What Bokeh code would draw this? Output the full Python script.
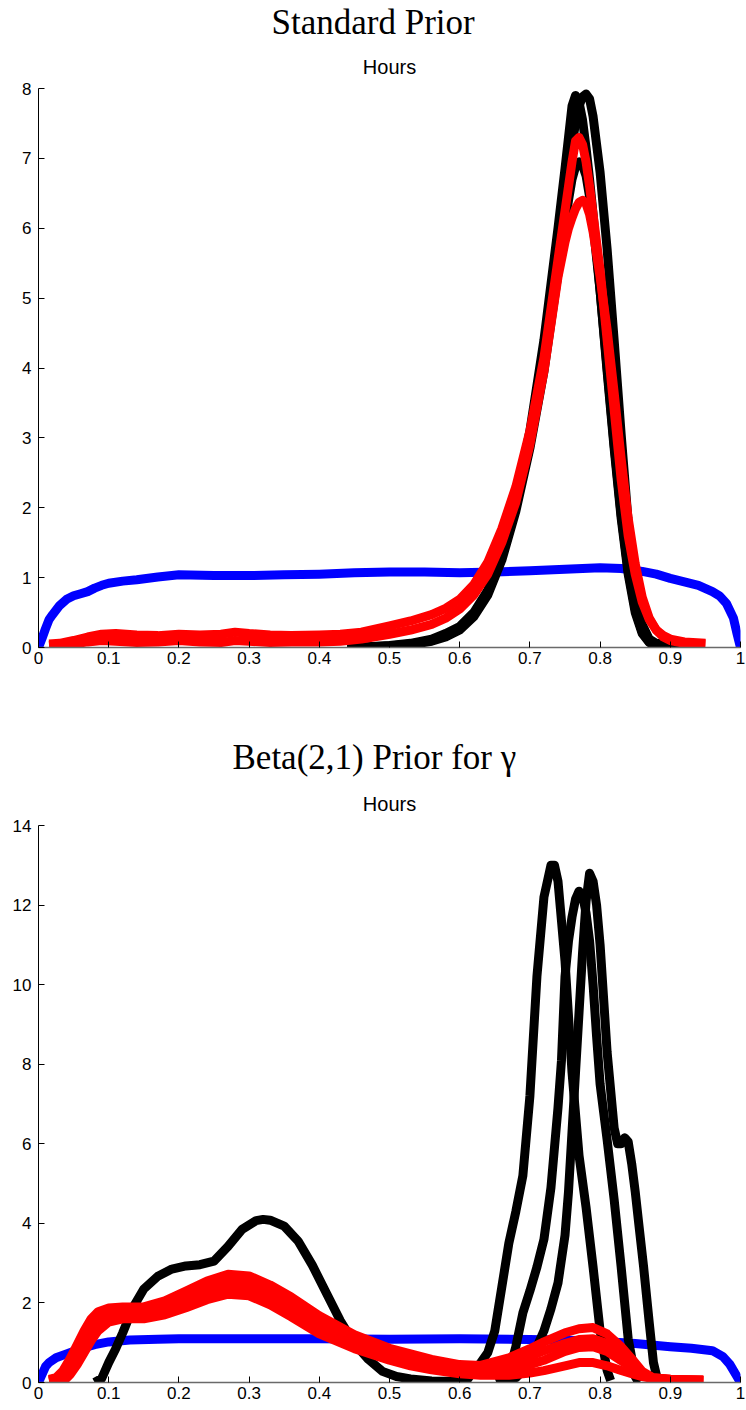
from bokeh.plotting import figure
from bokeh.models import Range1d, FixedTicker, Title
from bokeh.layouts import column
from bokeh.embed import file_html
from bokeh.resources import INLINE

# ---------------- ticks / labels ----------------
x_ticks = [0, 0.1, 0.2, 0.3, 0.4, 0.5, 0.6, 0.7, 0.8, 0.9, 1]
x_tick_labels = ["0", "0.1", "0.2", "0.3", "0.4", "0.5", "0.6", "0.7", "0.8", "0.9", "1"]
top_y_ticks = [0, 1, 2, 3, 4, 5, 6, 7, 8]
bot_y_ticks = [0, 2, 4, 6, 8, 10, 12, 14]

top_title = "Standard Prior"
bot_title = "Beta(2,1) Prior for γ"
sub_title = "Hours"

# ---------------- top panel data ----------------
top_blue_x = [0.0, 0.005, 0.01, 0.015, 0.02, 0.03, 0.04, 0.05, 0.06, 0.07, 0.08, 0.09, 0.1, 0.12, 0.14,
              0.17, 0.2, 0.25, 0.3, 0.35, 0.4, 0.45, 0.5, 0.55, 0.6, 0.65, 0.7, 0.75, 0.8, 0.83, 0.86,
              0.88, 0.9, 0.92, 0.94, 0.96, 0.97, 0.98, 0.99, 0.995, 1.0]
top_blue_y = [0.0, 0.13, 0.27, 0.4, 0.47, 0.6, 0.69, 0.74, 0.77, 0.8, 0.85, 0.89, 0.92, 0.95, 0.97,
              1.01, 1.04, 1.03, 1.03, 1.04, 1.05, 1.07, 1.08, 1.08, 1.07, 1.08, 1.1, 1.12, 1.14, 1.13, 1.09,
              1.05, 0.99, 0.94, 0.89, 0.8, 0.74, 0.63, 0.42, 0.2, 0.0]

top_black_x = [0.44, 0.47, 0.5, 0.53, 0.56, 0.58, 0.6, 0.62, 0.64, 0.66, 0.68, 0.7, 0.72, 0.74, 0.75,
               0.755, 0.76, 0.765, 0.77, 0.775, 0.78, 0.785, 0.79, 0.8, 0.81, 0.82, 0.83, 0.84, 0.85,
               0.86, 0.87, 0.88, 0.89, 0.9, 0.92, 0.93]
top_black1 = [0.0, 0.01, 0.03, 0.06, 0.12, 0.2, 0.3, 0.5, 0.82, 1.35, 2.1, 3.1, 4.4, 6.0, 6.85,
              7.3, 7.75, 7.9, 7.8, 7.55, 7.15, 6.7, 6.2, 5.1, 3.95, 2.85, 1.85, 1.05, 0.5,
              0.2, 0.07, 0.03, 0.01, 0.0, 0.0, 0.0]
top_black2 = [0.0, 0.01, 0.02, 0.05, 0.1, 0.17, 0.27, 0.46, 0.78, 1.3, 2.0, 2.9, 4.15, 5.6, 6.4,
              6.8, 7.2, 7.5, 7.75, 7.88, 7.92, 7.85, 7.6, 6.8, 5.7, 4.4, 3.05, 1.8, 0.85,
              0.33, 0.12, 0.06, 0.05, 0.05, 0.04, 0.0]
top_black3 = [0.0, 0.0, 0.02, 0.04, 0.09, 0.15, 0.25, 0.44, 0.75, 1.25, 1.95, 2.85, 3.95, 5.35, 6.05,
              6.4, 6.7, 6.88, 6.95, 6.9, 6.75, 6.45, 6.05, 5.1, 4.0, 2.9, 1.9, 1.1, 0.55,
              0.22, 0.08, 0.03, 0.01, 0.0, 0.0, 0.0]

top_red_x = [0.015, 0.03, 0.05, 0.07, 0.09, 0.11, 0.14, 0.17, 0.2, 0.23, 0.26, 0.28, 0.3, 0.33, 0.36,
             0.4, 0.43, 0.46, 0.5, 0.53, 0.56, 0.58, 0.6, 0.62, 0.64, 0.66, 0.68, 0.7, 0.72, 0.74,
             0.75, 0.755, 0.76, 0.765, 0.77, 0.775, 0.78, 0.785, 0.79, 0.8, 0.81, 0.82, 0.83, 0.84,
             0.85, 0.86, 0.87, 0.88, 0.89, 0.9, 0.92, 0.95]
top_red1 = [0.05, 0.06, 0.1, 0.15, 0.19, 0.2, 0.18, 0.17, 0.19, 0.18, 0.19, 0.22, 0.2, 0.18, 0.17,
            0.18, 0.19, 0.22, 0.31, 0.38, 0.47, 0.56, 0.69, 0.9, 1.22, 1.7, 2.3, 3.1, 4.15, 5.55,
            6.25, 6.6, 6.95, 7.25, 7.3, 7.2, 6.95, 6.6, 6.2, 5.4, 4.4, 3.4, 2.4, 1.6,
            1.05, 0.65, 0.4, 0.25, 0.17, 0.12, 0.08, 0.06]
top_red2 = [0.03, 0.04, 0.05, 0.08, 0.1, 0.09, 0.07, 0.08, 0.1, 0.08, 0.07, 0.1, 0.09, 0.07, 0.08,
            0.08, 0.09, 0.12, 0.19, 0.25, 0.33, 0.42, 0.55, 0.75, 1.05, 1.5, 2.08, 2.9, 3.95, 5.3,
            5.8, 6.0, 6.15, 6.28, 6.37, 6.4, 6.35, 6.2, 5.95, 5.3, 4.55, 3.65, 2.7, 1.85,
            1.2, 0.72, 0.42, 0.25, 0.15, 0.1, 0.06, 0.05]

# ---------------- bottom panel data ----------------
bot_blue_x = [0.0, 0.005, 0.01, 0.015, 0.025, 0.04, 0.06, 0.08, 0.1, 0.13, 0.17, 0.2, 0.3, 0.4, 0.5,
              0.6, 0.7, 0.75, 0.8, 0.85, 0.9, 0.93, 0.96, 0.975, 0.985, 0.995, 1.0]
bot_blue_y = [0.0, 0.2, 0.4, 0.5, 0.62, 0.72, 0.85, 0.95, 1.02, 1.07, 1.09, 1.1, 1.1, 1.1, 1.09,
              1.1, 1.08, 1.06, 1.04, 0.98, 0.9, 0.86, 0.8, 0.65, 0.45, 0.15, 0.0]

bot_black1_x = [0.08, 0.09, 0.1, 0.11, 0.12, 0.135, 0.15, 0.17, 0.19, 0.21, 0.23, 0.25, 0.27, 0.29, 0.31,
                0.32, 0.33, 0.35, 0.37, 0.39, 0.41, 0.43, 0.45, 0.47, 0.49, 0.51, 0.53, 0.56, 0.59, 0.61,
                0.62, 0.63, 0.64, 0.65, 0.66, 0.67, 0.68, 0.69, 0.7, 0.71, 0.72, 0.73, 0.735, 0.74, 0.75,
                0.76, 0.77, 0.78, 0.79, 0.8, 0.81, 0.815]
bot_black1_y = [0.0, 0.1, 0.5, 0.85, 1.25, 1.9, 2.35, 2.67, 2.85, 2.93, 2.96, 3.05, 3.42, 3.85, 4.07,
                4.1, 4.08, 3.93, 3.55, 2.95, 2.25, 1.55, 0.98, 0.58, 0.28, 0.15, 0.09, 0.04, 0.03, 0.05,
                0.3, 0.5, 0.75, 1.3, 2.4, 3.5, 4.3, 5.2, 7.2, 10.2, 12.2, 13.0, 13.0, 12.6, 10.6,
                7.8, 5.7, 4.4, 2.9, 1.3, 0.3, 0.05]
bot_black2_x = [0.652, 0.66, 0.67, 0.68, 0.69, 0.7, 0.71, 0.72, 0.73, 0.74, 0.745, 0.75, 0.755, 0.76, 0.765,
                0.77, 0.775, 0.78, 0.785, 0.79, 0.795, 0.8, 0.805, 0.81, 0.82, 0.83, 0.84, 0.85, 0.855]
bot_black2_y = [0.0, 0.05, 0.25, 0.9, 1.75, 2.3, 2.9, 3.6, 4.9, 6.9, 8.1, 10.2, 11.1, 11.7, 12.15,
                12.35, 12.25, 11.8, 11.1, 10.0, 8.7, 7.5, 6.8, 6.1, 4.6, 2.9, 1.1, 0.15, 0.0]
bot_black3_x = [0.665, 0.68, 0.69, 0.7, 0.71, 0.72, 0.73, 0.74, 0.75, 0.755, 0.76, 0.765, 0.77, 0.775, 0.78,
                0.785, 0.79, 0.795, 0.8, 0.81, 0.82, 0.825, 0.83, 0.835, 0.84, 0.845, 0.85, 0.855, 0.862,
                0.87, 0.876, 0.882]
bot_black3_y = [0.0, 0.12, 0.3, 0.6, 0.9, 1.3, 1.85, 2.5, 3.7, 4.8, 6.3, 7.8, 9.3, 10.8, 12.1,
                12.8, 12.6, 12.0, 11.0, 8.3, 6.4, 6.0, 6.0, 6.15, 6.05, 5.5, 4.8, 4.0, 2.9,
                1.5, 0.5, 0.05]

bot_red_x = [0.015, 0.025, 0.035, 0.045, 0.055, 0.065, 0.075, 0.085, 0.1, 0.12, 0.15, 0.18, 0.21, 0.24,
             0.27, 0.3, 0.33, 0.36, 0.4, 0.45, 0.5, 0.53, 0.56, 0.6, 0.63, 0.67, 0.7, 0.72, 0.75, 0.77,
             0.79, 0.81, 0.83, 0.845, 0.86, 0.875, 0.9, 0.92, 0.947]
bot_red1 = [0.08, 0.12, 0.3, 0.6, 0.95, 1.3, 1.6, 1.78, 1.87, 1.9, 1.9, 2.05, 2.3, 2.55,
            2.72, 2.68, 2.45, 2.15, 1.68, 1.2, 0.86, 0.72, 0.58, 0.45, 0.43, 0.62, 0.85, 1.02, 1.25, 1.35,
            1.38, 1.22, 0.9, 0.6, 0.28, 0.12, 0.08, 0.07, 0.06]
bot_red2 = [0.05, 0.08, 0.2, 0.45, 0.8, 1.15, 1.45, 1.65, 1.78, 1.8, 1.8, 1.92, 2.15, 2.38,
            2.52, 2.5, 2.3, 2.0, 1.5, 1.08, 0.76, 0.62, 0.5, 0.38, 0.35, 0.48, 0.65, 0.8, 0.98, 1.08,
            1.1, 0.98, 0.72, 0.48, 0.25, 0.12, 0.08, 0.07, 0.06]
bot_red3 = [0.03, 0.05, 0.12, 0.32, 0.62, 0.95, 1.25, 1.47, 1.62, 1.68, 1.7, 1.8, 2.0, 2.22,
            2.36, 2.33, 2.12, 1.82, 1.36, 0.95, 0.65, 0.52, 0.41, 0.3, 0.27, 0.33, 0.45, 0.56, 0.78, 0.88,
            0.9, 0.78, 0.55, 0.36, 0.2, 0.11, 0.07, 0.06, 0.05]
bot_red4 = [0.0, 0.0, 0.02, 0.2, 0.45, 0.75, 1.05, 1.3, 1.52, 1.6, 1.6, 1.7, 1.88, 2.08,
            2.22, 2.18, 1.95, 1.65, 1.22, 0.85, 0.56, 0.42, 0.32, 0.22, 0.18, 0.18, 0.24, 0.3, 0.42, 0.5,
            0.5, 0.42, 0.3, 0.22, 0.15, 0.1, 0.07, 0.06, 0.05]

BLUE = "#0000ff"
RED = "#ff0000"
BLACK = "#000000"
LW = 9


def make_panel(title_text, title_offset, ymax, yticks, border_top, border_bottom,
               sub_standoff, title_standoff):
    p = figure(width=746, height=705, x_range=Range1d(0, 1), y_range=Range1d(0, ymax),
               output_backend="svg", toolbar_location=None, title=None,
               min_border_left=38, min_border_right=6,
               min_border_top=border_top, min_border_bottom=border_bottom)
    p.add_layout(Title(text=sub_title, align="center", text_font="Liberation Sans",
                       text_font_size="20px", text_font_style="normal", text_color="black",
                       standoff=sub_standoff), "above")
    p.add_layout(Title(text=title_text, align="left", offset=title_offset, text_font="Liberation Serif",
                       text_font_size="35px", text_font_style="normal", text_color="black",
                       text_line_height=0.8, standoff=title_standoff), "above")
    p.grid.visible = False
    p.outline_line_color = None
    p.background_fill_color = "white"
    p.border_fill_color = "white"

    xa = p.xaxis[0]
    xa.ticker = FixedTicker(ticks=x_ticks)
    xa.major_label_overrides = {t: l for t, l in zip(x_ticks, x_tick_labels)}
    ya = p.yaxis[0]
    ya.ticker = FixedTicker(ticks=yticks)
    for ax in (xa, ya):
        ax.major_tick_line_color = "black"
        ax.major_tick_in = 6
        ax.major_tick_out = 0
        ax.minor_tick_line_color = None
        ax.major_label_text_font = "Liberation Sans"
        ax.major_label_text_font_size = "17px"
        ax.major_label_text_color = "black"
    ya.axis_line_color = "black"
    ya.axis_line_width = 1
    xa.axis_line_color = "#6a6a6a"
    xa.axis_line_width = 1.6
    xa.major_label_standoff = 4
    ya.major_label_standoff = 7
    return p


def draw(p, x, y, color):
    p.line(x, y, line_color=color, line_width=LW, line_join="round", line_cap="butt")


p1 = make_panel(top_title, 233, 8, top_y_ticks, 88, 58, 22, 1)
draw(p1, top_blue_x, top_blue_y, BLUE)
for yy in (top_black1, top_black2, top_black3):
    draw(p1, top_black_x, yy, BLACK)
for yy in (top_red2, top_red1):
    draw(p1, top_red_x, yy, RED)

p2 = make_panel(bot_title, 194, 14, bot_y_ticks, 120, 28, 22, 5)
draw(p2, bot_blue_x, bot_blue_y, BLUE)
draw(p2, bot_black1_x, bot_black1_y, BLACK)
draw(p2, bot_black2_x, bot_black2_y, BLACK)
draw(p2, bot_black3_x, bot_black3_y, BLACK)
for yy in (bot_red4, bot_red3, bot_red2, bot_red1):
    draw(p2, bot_red_x, yy, RED)

layout = column(p1, p2, spacing=0)
open("out.html", "w").write(file_html(layout, INLINE))
